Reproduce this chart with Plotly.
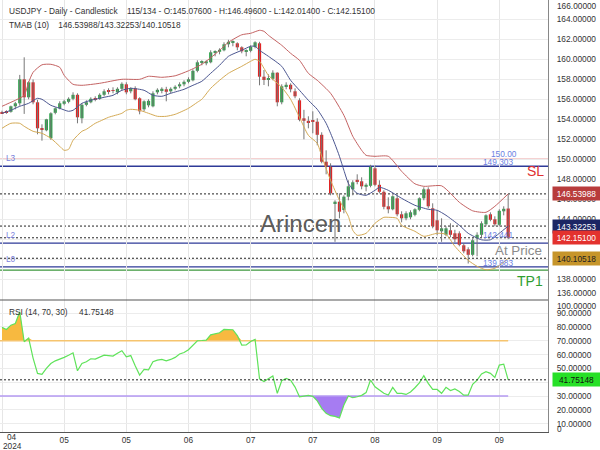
import plotly.graph_objects as go

# ---------------- data ----------------
opens = [154.70,154.80,154.75,155.30,155.60,158.00,156.20,157.70,155.70,153.10,
         152.90,152.10,154.65,155.10,155.55,155.75,156.05,156.45,154.10,155.45,
         155.70,156.10,156.05,156.45,156.85,156.90,156.70,157.05,157.50,156.80,
         157.10,156.10,155.00,155.40,155.30,156.70,156.90,157.00,156.80,157.05,
         157.30,157.50,157.75,157.90,158.85,159.70,159.60,159.70,160.70,160.75,
         160.90,161.50,161.70,161.60,161.20,160.75,160.85,161.25,161.60,158.26,
         157.93,158.05,158.66,155.70,157.30,157.45,156.80,155.90,154.10,153.85,
         153.90,153.76,152.45,149.76,149.26,145.53,145.76,144.93,146.26,147.00,
         147.95,147.80,147.25,147.35,149.10,147.45,146.75,145.30,145.00,146.10,
         144.50,144.10,144.20,144.45,144.95,146.10,147.00,145.10,143.90,142.80,
         142.45,142.90,142.60,142.60,141.40,141.00,140.45,142.10,142.45,143.50,
         144.50,144.00,143.45,144.80,145.076]
highs = [154.86,154.90,155.37,155.74,158.44,160.20,157.80,157.99,155.95,153.50,
         154.05,154.70,155.20,155.80,155.95,156.20,156.70,156.60,155.60,155.90,
         156.20,156.30,156.60,157.00,157.10,157.20,157.20,157.70,157.70,157.20,
         157.30,156.20,155.90,156.00,156.80,157.10,157.20,157.25,157.20,157.40,
         157.70,157.90,158.20,159.00,159.90,159.90,159.90,160.90,160.90,161.10,
         161.70,161.95,161.90,161.70,161.30,161.00,161.40,161.80,161.75,158.93,
         158.50,158.90,158.70,157.50,157.70,157.60,157.10,156.10,154.95,154.30,
         154.80,154.10,152.70,150.90,149.60,145.90,146.60,146.40,147.90,147.90,
         148.50,148.20,147.60,149.45,149.40,147.90,146.90,146.20,146.40,146.40,
         144.80,144.80,144.90,145.10,146.20,147.20,147.20,145.60,144.90,144.10,
         143.30,143.60,142.95,142.80,141.60,141.20,142.10,142.70,143.80,144.50,
         144.70,144.30,145.00,145.30,146.496]
lows = [154.55,154.55,154.66,155.00,155.36,154.54,156.00,155.50,152.50,151.86,
        152.80,151.95,154.50,155.00,155.40,155.60,155.90,153.60,153.60,155.30,
        155.60,155.80,155.95,156.30,156.50,156.60,156.50,156.90,156.50,156.60,
        155.90,154.50,154.80,155.20,155.20,156.50,156.60,155.80,156.60,156.90,
        157.10,157.30,157.60,157.80,158.70,159.40,159.40,159.60,160.30,160.50,
        160.80,161.20,161.30,160.90,160.60,160.30,160.70,161.10,157.40,157.43,
        157.30,157.90,155.30,155.50,157.00,156.70,156.10,153.80,152.00,153.10,
        152.60,151.40,149.60,148.50,146.40,141.75,144.10,144.60,145.90,146.40,
        147.50,147.00,146.80,147.20,147.30,146.60,145.00,144.60,144.90,144.30,
        143.70,143.90,144.00,144.30,144.80,145.90,145.10,143.10,142.40,141.75,
        142.30,142.20,141.70,141.30,140.60,139.58,140.30,140.30,142.20,143.30,
        143.80,143.30,143.30,144.40,142.014]
closes = [154.62,154.72,155.30,155.60,158.00,156.20,157.70,155.70,153.10,152.95,
          154.00,154.60,155.10,155.60,155.80,156.05,156.45,154.20,155.45,155.70,
          156.05,156.00,156.45,156.80,156.75,156.85,157.05,157.55,156.70,157.10,
          156.00,154.80,155.80,155.85,156.60,156.95,157.05,156.75,157.05,157.25,
          157.50,157.75,158.00,158.85,159.70,159.75,159.80,160.70,160.80,160.95,
          161.50,161.75,161.72,161.20,160.80,160.85,161.25,161.70,158.26,157.93,
          158.05,158.66,155.70,157.30,157.45,157.00,156.30,153.95,153.85,153.70,
          153.75,152.45,149.76,149.26,146.60,145.76,144.76,146.26,147.30,147.70,
          147.80,147.30,147.45,149.25,147.45,146.75,145.25,145.00,146.30,144.50,
          144.10,144.60,144.70,145.00,146.10,147.00,145.30,143.30,142.90,143.10,
          143.10,142.45,142.00,141.45,140.80,140.45,141.90,142.45,143.60,144.40,
          143.95,143.50,144.85,145.05,142.151]

# TMAB (10) band readings: candle index -> value
upper_idx = [0,2,3,5,6,7,9,11,13,14,16,18,22,27,31,33,36,39,42,45,47,49,51,54,56,58,59,60,63,65,67,69,71,74,77,79,81,82,84,87,90,93,95,99,101,103,106,109,111,114]
upper_val = [155.3,155.7,155.9,156.4,157.7,158.7,159.45,159.5,159.2,158.4,157.5,157.4,157.6,158.0,158.0,158.3,158.2,158.35,158.85,159.5,160.15,160.9,161.7,162.45,162.6,162.9,162.8,162.4,161.4,160.6,159.9,158.6,157.9,156.6,154.4,152.3,150.9,150.4,150.3,150.3,148.8,147.55,147.3,147.35,146.6,145.7,144.85,144.7,145.3,146.53988]
mid_idx = [0,2,4,6,8,9,11,13,15,16,18,20,23,25,27,29,32,34,36,38,41,43,45,47,49,51,54,56,57,58,60,63,65,67,69,71,73,74,75,76,77,78,79,80,82,84,85,87,90,93,96,98,100,103,105,108,110,112,114]
mid_val = [154.6,154.9,155.3,155.6,156.1,156.0,155.4,155.1,154.8,154.9,155.6,155.9,156.2,156.4,156.9,157.1,156.9,156.4,156.3,156.6,157.0,157.4,157.8,158.6,159.4,160.3,160.9,161.3,161.3,160.9,160.3,159.3,157.9,156.9,155.9,155.0,153.6,152.6,151.5,150.3,148.9,147.6,147.0,146.6,146.4,146.9,147.2,146.9,146.1,145.4,145.0,144.9,144.4,143.4,142.6,141.95,141.95,142.6,143.32253]
lower_idx = [0,2,4,5,7,9,11,13,14,15,16,18,19,21,22,24,27,28,29,31,33,35,37,39,42,44,45,47,49,51,54,56,57,58,59,60,63,65,67,69,71,72,74,76,78,79,80,82,84,86,87,89,90,93,95,98,100,102,105,107,109,111,113,114]
lower_val = [153.1,153.6,153.6,153.3,152.8,152.6,152.1,151.3,150.9,151.0,151.9,152.8,153.0,153.6,153.8,154.2,154.6,154.9,155.0,154.9,154.6,154.3,154.3,154.5,155.1,155.7,156.0,157.1,157.9,158.6,159.3,159.8,160.0,159.8,159.1,158.4,157.2,156.0,154.2,152.4,151.6,150.3,147.9,145.9,144.3,142.9,142.4,142.6,143.6,144.2,144.2,144.1,143.4,142.8,142.3,142.6,142.5,141.3,139.9,139.3,138.95,139.1,139.7,140.10518]

# RSI (14, 70, 30) readings, one per candle
rsi = [79.7,78.2,81.3,82.5,91.0,69.3,72.0,57.5,46.4,45.7,
       50.0,53.5,55.5,56.5,58.0,59.5,61.3,48.3,53.6,54.8,
       57.0,56.8,58.5,59.6,59.3,58.9,61.0,62.8,58.4,59.3,
       52.0,45.2,49.3,49.0,54.8,56.0,56.5,55.5,56.5,58.0,
       60.4,61.5,63.5,66.5,70.0,70.2,70.5,74.3,75.0,75.8,
       78.2,78.2,78.0,73.8,66.9,67.0,69.5,71.0,42.5,40.5,
       42.5,44.5,32.0,41.1,42.8,41.5,36.5,29.5,30.0,30.5,
       29.8,26.5,21.1,17.5,15.8,15.3,14.2,23.5,30.0,28.8,
       29.5,30.5,32.5,41.6,36.7,34.5,32.0,30.7,36.3,32.0,
       32.0,31.2,33.0,36.0,39.5,44.7,39.2,34.8,34.8,32.0,
       36.3,34.0,35.1,33.3,30.7,30.7,38.5,41.5,46.0,47.6,
       46.4,43.5,52.4,53.1,41.75148]
rsi_ob, rsi_os = 70, 30

# trade levels
sl_level = 150.00
zone_levels = [149.303, 141.61, 139.25]
tp_level = 138.91

tick_idx = [0, 14, 28, 42, 56, 70, 84, 98, 112]
tick_txt = ["", "05", "05", "06", "07", "07", "08", "09", "09"]
price_ticks = list(range(138, 165, 2))
rsi_ticks = list(range(10, 91, 10))

# ---------------- layout constants ----------------
W, H = 600, 450
MR, MB = 52, 18
PW, PH = W - MR, H - MB          # plot area 548 x 432
SPLIT = 300                       # pane boundary in px
dom_split = 1 - SPLIT / PH
xr = [-0.45, 122.97]
FONT = "Liberation Sans, Arial, sans-serif"
FS = 8.3

def px(x): return x / PW
def py(y): return 1 - y / PH

GREEN, RED, WICK = "#2fa34c", "#e02424", "#777777"
n = len(closes)
idx = list(range(n))

fig = go.Figure()

# wicks
wx, wy = [], []
for i in idx:
    wx += [i, i, None]
    wy += [lows[i], highs[i], None]
fig.add_trace(go.Scatter(x=wx, y=wy, mode="lines", line=dict(color=WICK, width=1),
                         hoverinfo="skip", xaxis="x", yaxis="y"))
# bodies
base = [min(o, c) for o, c in zip(opens, closes)]
hgt = [max(abs(c - o), 0.07) for o, c in zip(opens, closes)]
cols = [GREEN if c >= o else RED for o, c in zip(opens, closes)]
fig.add_trace(go.Bar(x=idx, y=hgt, base=base, width=0.72, marker=dict(color=cols, line=dict(width=0)),
                     hoverinfo="skip", xaxis="x", yaxis="y"))

# bands
for bx, bv, colr in [(upper_idx, upper_val, "#c46262"), (mid_idx, mid_val, "#4b5690"), (lower_idx, lower_val, "#d4aa55")]:
    fig.add_trace(go.Scatter(x=bx, y=bv, mode="lines", line=dict(color=colr, width=1, shape="spline", smoothing=0.6),
                             hoverinfo="skip", xaxis="x", yaxis="y"))

# RSI fills
fig.add_trace(go.Scatter(x=idx, y=[rsi_ob] * n, mode="lines", line=dict(width=0, color="rgba(0,0,0,0)"),
                         hoverinfo="skip", xaxis="x2", yaxis="y2"))
fig.add_trace(go.Scatter(x=idx, y=[max(r, rsi_ob) for r in rsi], mode="lines", fill="tonexty",
                         fillcolor="#f7b940", line=dict(width=0, color="rgba(0,0,0,0)"),
                         hoverinfo="skip", xaxis="x2", yaxis="y2"))
fig.add_trace(go.Scatter(x=idx, y=[rsi_os] * n, mode="lines", line=dict(width=0, color="rgba(0,0,0,0)"),
                         hoverinfo="skip", xaxis="x2", yaxis="y2"))
fig.add_trace(go.Scatter(x=idx, y=[min(r, rsi_os) for r in rsi], mode="lines", fill="tonexty",
                         fillcolor="#a67cf2", line=dict(width=0, color="rgba(0,0,0,0)"),
                         hoverinfo="skip", xaxis="x2", yaxis="y2"))
fig.add_trace(go.Scatter(x=[xr[0], idx[-1]], y=[rsi_ob, rsi_ob], mode="lines", line=dict(color="#f6c46e", width=1.6),
                         hoverinfo="skip", xaxis="x2", yaxis="y2"))
fig.add_trace(go.Scatter(x=[xr[0], idx[-1]], y=[rsi_os, rsi_os], mode="lines", line=dict(color="#b59af2", width=1.6),
                         hoverinfo="skip", xaxis="x2", yaxis="y2"))
fig.add_trace(go.Scatter(x=idx, y=rsi, mode="lines", line=dict(color="#5fe35a", width=1.2),
                         hoverinfo="skip", xaxis="x2", yaxis="y2"))

shapes = []
def hline(yv, colr, width=1, dash="solid", yref="y"):
    shapes.append(dict(type="line", xref="x domain", x0=0, x1=1, yref=yref, y0=yv, y1=yv,
                       line=dict(color=colr, width=width, dash=dash), layer="below"))

hline(sl_level, "#d84a4a", 1.1)
for z in zone_levels:
    hline(z, "#2e3a98", 1.3)
hline(tp_level, "#3d973d", 1.3)
for v in [upper_val[-1], mid_val[-1], closes[-1], lower_val[-1]]:
    hline(v, "#222222", 1, "2px,2px")
shapes.append(dict(type="line", xref="x2 domain", x0=0, x1=1, yref="y2", y0=rsi[-1], y1=rsi[-1],
                   line=dict(color="#222222", width=1, dash="2px,2px")))
# pane separator
shapes.append(dict(type="line", xref="paper", x0=0, x1=1, yref="paper", y0=dom_split, y1=dom_split,
                   line=dict(color="#555555", width=1.2)))

ann = []
def text(x, y, s, size=FS, color="#333333", xanchor="left", **kw):
    ann.append(dict(xref="paper", yref="paper", x=px(x), y=py(y), text=s, showarrow=False,
                    xanchor=xanchor, yanchor="middle", font=dict(family=FONT, size=size, color=color), **kw))

nb = "\u00a0"
text(7, 10.5, f"USDJPY - Daily - Candlestick{nb*4}{n}/134 - O:{opens[-1]:.5f} - H:{highs[-1]:.5f} - L:{lows[-1]:.5f} - C:{closes[-1]:.5f}")
text(7, 25, f"TMAB (10){nb*4}{upper_val[-1]:.5f}/{mid_val[-1]:.5f}/{lower_val[-1]:.5f}")
text(7, 311.5, f"RSI (14, 70, 30){nb*5}{rsi[-1]:.5f}")
text(555, 5.7, "166.00000")
text(555, 292.7, "136.00000")
text(555, 305.5, "100.00000")
text(555, 429.3, "0")
text(12, 437.5, "04", xanchor="center")
text(12, 446, "2024", xanchor="center")

# level labels
lvl_col = "#6b7fe2"
text(504, 154, f"{sl_level:.2f}", color=lvl_col, xanchor="center")
text(498, 162, f"{zone_levels[0]:.3f}", color=lvl_col, xanchor="center")
text(498, 235, "142.441", color=lvl_col, xanchor="center")
text(498, 262.5, "139.883", color=lvl_col, xanchor="center")
text(4, 158, "L3", color="#7a80dc")
text(4, 235, "L2", color="#7a80dc")
text(4, 259, "L0", color="#7a80dc")
text(535.5, 171.5, "SL", size=14, color="#e03030", xanchor="center")
text(529.5, 281, "TP1", size=14, color="#2f9e2f", xanchor="center")
text(518.5, 250, "At Price", size=13.4, color="#8c8c8c", xanchor="center")
text(300, 223.5, "Arincen", size=24, color="#5c5c5c", xanchor="center")

# price boxes on the right axis
def box(yv, yref, bg, fg):
    ann.append(dict(xref="paper", yref=yref, x=px(552), y=yv, text=f"{yv:.5f}", showarrow=False,
                    xanchor="left", yanchor="middle", bgcolor=bg, width=45, height=11, align="center",
                    borderpad=1, font=dict(family=FONT, size=FS, color=fg)))
box(upper_val[-1], "y", "#b83c3c", "#ffffff")
box(mid_val[-1], "y", "#1c2664", "#ffffff")
box(closes[-1], "y", "#e3322e", "#ffffff")
box(lower_val[-1], "y", "#c6952a", "#222222")
box(rsi[-1], "y2", "#27e027", "#111111")

axis_font = dict(family=FONT, size=FS, color="#333333")
fig.update_layout(
    width=W, height=H, margin=dict(l=0, r=MR, t=0, b=MB),
    paper_bgcolor="white", plot_bgcolor="white", showlegend=False, barmode="overlay",
    xaxis=dict(domain=[0, 1], anchor="y", range=xr, tickvals=tick_idx, showticklabels=False,
               showgrid=True, gridcolor="#e6e6e6", zeroline=False, showline=False, ticks=""),
    xaxis2=dict(domain=[0, 1], anchor="y2", range=xr, matches="x", tickvals=tick_idx, ticktext=tick_txt,
                showgrid=True, gridcolor="#e6e6e6", zeroline=False, showline=True, linecolor="#555555",
                ticks="", tickfont=axis_font, ticklabelstandoff=0),
    yaxis=dict(domain=[dom_split, 1], anchor="x", side="right", range=[135.93, 165.93], tickvals=price_ticks,
               tickformat=".5f", showgrid=True, gridcolor="#ececec", zeroline=False, showline=True,
               linecolor="#888888", ticks="", tickfont=axis_font, ticklabelstandoff=6),
    yaxis2=dict(domain=[0, dom_split], anchor="x2", side="right", range=[4.0, 99.5], tickvals=rsi_ticks,
                tickformat=".5f", showgrid=True, gridcolor="#ececec", zeroline=False, showline=True,
                linecolor="#888888", ticks="", tickfont=axis_font, ticklabelstandoff=6),
    shapes=shapes, annotations=ann,
)

fig.write_html("out.html", config={"displayModeBar": False},
               post_script="document.body.style.margin='0';document.body.style.overflow='hidden';")
